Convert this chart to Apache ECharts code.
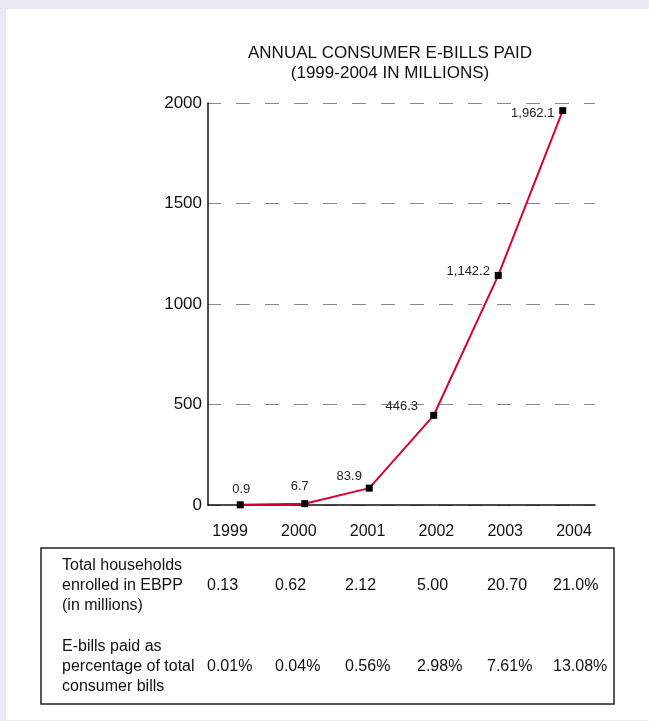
<!DOCTYPE html>
<html>
<head>
<meta charset="utf-8">
<script src="https://cdn.jsdelivr.net/npm/echarts@6/dist/echarts.min.js"></script>
<style>
  html, body { margin: 0; padding: 0; background: #eaeaf4; }
  #panel { position: absolute; left: 6px; top: 9px; width: 643px; height: 711px; background: #ffffff; }
  #chart { position: absolute; left: 0; top: 0; width: 649px; height: 721px; }
</style>
</head>
<body>
<div id="panel"></div>
<div id="chart"></div>
<script>
// ---- data ----
const titleLines = ['ANNUAL CONSUMER E-BILLS PAID', '(1999-2004 IN MILLIONS)'];
const years = ['1999', '2000', '2001', '2002', '2003', '2004'];
const ebillsPaid = [0.9, 6.7, 83.9, 446.3, 1142.2, 1962.1];
const yMin = 0, yMax = 2000, yStep = 500;
const rowLabelHouseholds = 'Total households\nenrolled in EBPP\n(in millions)';
const households = ['0.13', '0.62', '2.12', '5.00', '20.70', '21.0%'];
const rowLabelPercent = 'E-bills paid as\npercentage of total\nconsumer bills';
const percentOfBills = ['0.01%', '0.04%', '0.56%', '2.98%', '7.61%', '13.08%'];

// ---- layout / style ----
const FONT = 'Liberation Sans, Arial, Helvetica, sans-serif';
const labelOffsets = [[1, -15], [-5, -17], [-20, -12], [-32, -9], [-30, -4], [-30, 3]];
const tableColX = [207, 275, 345, 417, 487, 553];
const tableRowY = [586, 667];
const tableLabelX = 62;

const fmt = v => v.toLocaleString('en-US', { minimumFractionDigits: 1, maximumFractionDigits: 1 });

const chart = echarts.init(document.getElementById('chart'), null, { renderer: 'canvas' });

const graphics = [
  {
    type: 'text', x: 390, y: 63, z: 10,
    style: {
      text: titleLines.join('\n'), font: '17px ' + FONT, fill: '#111',
      textAlign: 'center', textVerticalAlign: 'middle', lineHeight: 20
    }
  },
  {
    type: 'rect', shape: { x: 41, y: 548, width: 573, height: 156 },
    style: { fill: 'none', stroke: '#222', lineWidth: 1.5 }
  },
  {
    type: 'text', x: tableLabelX, y: tableRowY[0],
    style: { text: rowLabelHouseholds, font: '16px ' + FONT, fill: '#111', textAlign: 'left', textVerticalAlign: 'middle', lineHeight: 20 }
  },
  {
    type: 'text', x: tableLabelX, y: tableRowY[1],
    style: { text: rowLabelPercent, font: '16px ' + FONT, fill: '#111', textAlign: 'left', textVerticalAlign: 'middle', lineHeight: 20 }
  }
];
households.forEach((t, i) => graphics.push({
  type: 'text', x: tableColX[i], y: tableRowY[0],
  style: { text: t, font: '16px ' + FONT, fill: '#111', textAlign: 'left', textVerticalAlign: 'middle' }
}));
percentOfBills.forEach((t, i) => graphics.push({
  type: 'text', x: tableColX[i], y: tableRowY[1],
  style: { text: t, font: '16px ' + FONT, fill: '#111', textAlign: 'left', textVerticalAlign: 'middle' }
}));

chart.setOption({
  animation: false,
  backgroundColor: 'transparent',
  textStyle: { fontFamily: FONT },
  grid: [
    { left: 208, right: 54, top: 103, bottom: 216 },
    { left: 230, right: 75, top: 103, bottom: 216 }
  ],
  xAxis: [
    {
      gridIndex: 0, type: 'category', data: years, boundaryGap: true,
      axisLine: { show: true, lineStyle: { color: '#111', width: 1.5 } },
      axisTick: { show: false }, axisLabel: { show: false }, splitLine: { show: false }
    },
    {
      gridIndex: 1, type: 'category', data: years, boundaryGap: false,
      axisLine: { show: false }, axisTick: { show: false }, splitLine: { show: false },
      axisLabel: { fontSize: 16, color: '#111', margin: 19, fontFamily: FONT }
    }
  ],
  yAxis: [
    {
      gridIndex: 0, type: 'value', min: yMin, max: yMax, interval: yStep,
      axisLine: { show: true, lineStyle: { color: '#111', width: 1.5 } },
      axisTick: { show: false },
      axisLabel: { fontSize: 17, color: '#111', margin: 6, fontFamily: FONT, formatter: v => String(v) },
      splitLine: { show: true, lineStyle: { type: [14, 15], dashOffset: 1, color: '#8a8a8a', width: 1 } }
    },
    { gridIndex: 1, type: 'value', min: 0, max: 1, show: false }
  ],
  series: [
    {
      type: 'line', xAxisIndex: 0, yAxisIndex: 0,
      data: ebillsPaid.map((v, i) => ({
        value: v,
        label: { offset: labelOffsets[i] }
      })),
      lineStyle: { color: '#dc0030', width: 2 },
      symbol: 'rect', symbolSize: 7,
      itemStyle: { color: '#000' },
      label: {
        show: true, position: 'inside', fontSize: 13, color: '#222',
        fontFamily: FONT, textBorderWidth: 0,
        formatter: p => fmt(p.value)
      },
      z: 5
    }
  ],
  graphic: graphics
});
</script>
</body>
</html>
